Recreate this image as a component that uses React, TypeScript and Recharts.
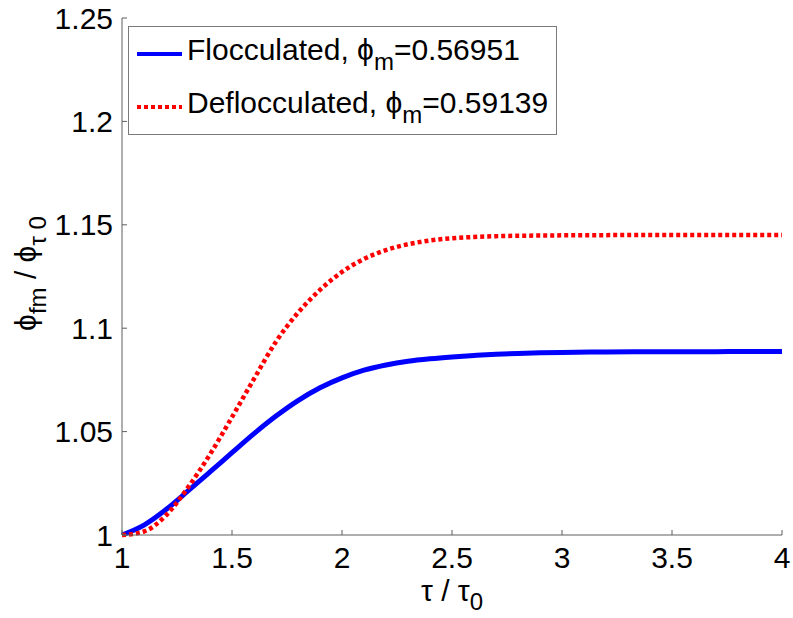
import { LineChart, Line, XAxis, YAxis, Legend } from 'recharts';

// tau / tau0 sample points
const tauRatio = [1, 1.1, 1.2, 1.3, 1.4, 1.5, 1.6, 1.7, 1.8, 1.9, 2, 2.1, 2.2, 2.3, 2.4, 2.5, 2.6, 2.7, 2.8, 2.9, 3, 3.2, 3.4, 3.6, 3.8, 4];

// phi_fm / phi_tau0
const flocculated = [1.0, 1.0048, 1.0123, 1.0213, 1.0305, 1.0398, 1.049, 1.0575, 1.065, 1.0712, 1.076, 1.0797, 1.0822, 1.084, 1.0852, 1.0861, 1.0868, 1.0874, 1.0878, 1.0881, 1.0883, 1.0885, 1.0886, 1.0886, 1.0887, 1.0887];
const deflocculated = [1.0, 1.0017, 1.0095, 1.023, 1.039, 1.057, 1.0755, 1.0935, 1.1075, 1.1185, 1.1272, 1.1335, 1.1378, 1.1406, 1.1424, 1.1435, 1.1441, 1.1445, 1.1447, 1.1448, 1.1449, 1.145, 1.1451, 1.1451, 1.1451, 1.1451];

const xTicks = [1, 1.5, 2, 2.5, 3, 3.5, 4];
const yTicks = [1, 1.05, 1.1, 1.15, 1.2, 1.25];

const seriesInfo = [
    { key: 'floc', name: 'Flocculated', phiM: '=0.56951', color: '#0000ff', dash: undefined },
    { key: 'defloc', name: 'Deflocculated', phiM: '=0.59139', color: '#ff0000', dash: '4 3' },
];

const data = tauRatio.map((t, i) => ({ t, floc: flocculated[i], defloc: deflocculated[i] }));

const FONT = '"Liberation Sans", Arial, sans-serif';
const AXIS = '#5e5e5e';

function LegendBox() {
    return (
        <svg width={429} height={109} style={{ display: 'block' }}>
            <rect x={0.5} y={0.5} width={428} height={108} fill="#fff" stroke="#7a7a7a" strokeWidth={1} />
            {seriesInfo.map((s, i) => {
                const cy = 28 + i * 53;
                return (
                    <g key={s.key}>
                        <line x1={9} x2={54} y1={cy} y2={cy} stroke={s.color} strokeWidth={4} strokeDasharray={s.dash} />
                        <text x={59} y={cy + 6} fontFamily={FONT} fontSize={30} fill="#000">
                            {s.name + ', ϕ'}
                            <tspan fontSize={24} dy={10}>m</tspan>
                            <tspan dy={-10}>{s.phiM}</tspan>
                        </text>
                    </g>
                );
            })}
        </svg>
    );
}

export default function App() {
    return (
        <div style={{ position: 'absolute', left: 0, top: 0, background: '#fff' }}>
            <LineChart width={793} height={618} data={data} margin={{ top: 18, right: 11, bottom: 0, left: 0 }}>
                <XAxis
                    dataKey="t"
                    type="number"
                    domain={[1, 4]}
                    ticks={xTicks}
                    height={83}
                    stroke={AXIS}
                    tickSize={-5}
                    tickMargin={17}
                    tick={{ fill: '#000', fontSize: 30, fontFamily: FONT }}
                    label={{
                        content: (props: any) => {
                            const vb = props.viewBox;
                            const cx = vb.x + vb.width / 2;
                            return (
                                <text x={cx} y={601} textAnchor="middle" fontFamily={FONT} fontSize={30} fill="#000">
                                    τ / τ
                                    <tspan fontSize={24} dy={9}>0</tspan>
                                </text>
                            );
                        },
                    }}
                />
                <YAxis
                    type="number"
                    domain={[1, 1.25]}
                    ticks={yTicks}
                    width={122}
                    stroke={AXIS}
                    tickSize={-5}
                    tickMargin={14}
                    tick={{ fill: '#000', fontSize: 30, fontFamily: FONT }}
                    label={{
                        content: (props: any) => {
                            const vb = props.viewBox;
                            const cx = 36;
                            const cy = vb.y + vb.height / 2 - 3;
                            return (
                                <text
                                    x={cx}
                                    y={cy}
                                    textAnchor="middle"
                                    transform={`rotate(-90 ${cx} ${cy})`}
                                    fontFamily={FONT}
                                    fontSize={30}
                                    fill="#000"
                                >
                                    ϕ
                                    <tspan fontSize={24} dy={10}>fm</tspan>
                                    <tspan dy={-10}> / ϕ</tspan>
                                    <tspan fontSize={24} dy={10}>τ 0</tspan>
                                </text>
                            );
                        },
                    }}
                />
                <Legend
                    layout="vertical"
                    verticalAlign="middle"
                    align="center"
                    wrapperStyle={{ top: 26, left: 128, width: 429 }}
                    content={() => <LegendBox />}
                />
                <Line
                    dataKey="floc"
                    name="Flocculated"
                    type="monotone"
                    stroke="#0000ff"
                    strokeWidth={5}
                    dot={false}
                    isAnimationActive={false}
                />
                <Line
                    dataKey="defloc"
                    name="Deflocculated"
                    type="monotone"
                    stroke="#ff0000"
                    strokeWidth={4.5}
                    strokeDasharray="4 3"
                    dot={false}
                    isAnimationActive={false}
                />
            </LineChart>
        </div>
    );
}
